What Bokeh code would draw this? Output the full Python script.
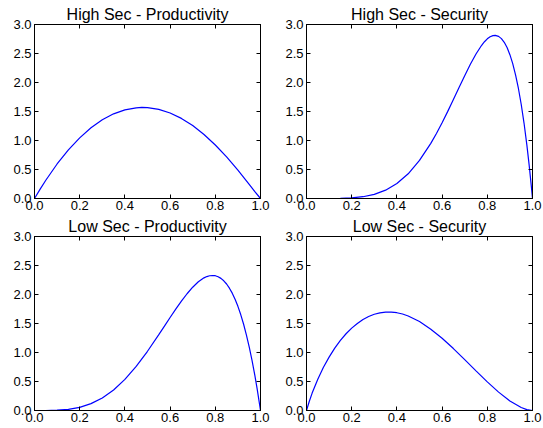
from bokeh.plotting import figure
from bokeh.layouts import gridplot
from bokeh.models import Range1d, LinearAxis, FixedTicker
from bokeh.embed import file_html
from bokeh.resources import INLINE

# ---------------- data ----------------
titles = ["High Sec - Productivity", "High Sec - Security",
          "Low Sec - Productivity", "Low Sec - Security"]

x_ticks = [0.0, 0.2, 0.4, 0.6, 0.8, 1.0]
x_tick_labels = ["0.0", "0.2", "0.4", "0.6", "0.8", "1.0"]
y_ticks = [0.0, 0.5, 1.0, 1.5, 2.0, 2.5, 3.0]
y_tick_labels = ["0.0", "0.5", "1.0", "1.5", "2.0", "2.5", "3.0"]

hi_prod_x = [0.0, 0.025, 0.05, 0.1, 0.15, 0.2, 0.25, 0.3, 0.35, 0.4, 0.45, 0.475,
             0.5, 0.55, 0.6, 0.65, 0.7, 0.75, 0.8, 0.85, 0.9, 0.95, 0.975, 1.0]
hi_prod_y = [0.0, 0.162, 0.315, 0.595, 0.838, 1.046, 1.219, 1.357, 1.460, 1.529, 1.564, 1.570,
             1.567, 1.536, 1.474, 1.381, 1.257, 1.104, 0.923, 0.717, 0.488, 0.242, 0.117, 0.0]

hi_sec_x = [0.0, 0.05, 0.1, 0.15, 0.2, 0.25, 0.3, 0.35, 0.4, 0.45, 0.5, 0.55, 0.575, 0.6,
            0.625, 0.65, 0.675, 0.7, 0.725, 0.75, 0.775, 0.7875, 0.8, 0.8125, 0.825, 0.835,
            0.85, 0.8625, 0.875, 0.8875, 0.9, 0.9125, 0.925, 0.9375, 0.95, 0.9625, 0.975,
            0.985, 0.995, 1.0]
hi_sec_y = [0.0, 0.0, 0.0004, 0.0027, 0.0108, 0.0308, 0.0714, 0.1434, 0.258, 0.426, 0.656,
            0.951, 1.122, 1.306, 1.502, 1.705, 1.913, 2.118, 2.314, 2.492, 2.642, 2.703,
            2.753, 2.789, 2.809, 2.813, 2.795, 2.756, 2.693, 2.602, 2.480, 2.325, 2.133,
            1.901, 1.625, 1.301, 0.925, 0.584, 0.205, 0.0]

lo_prod_x = [0.0, 0.05, 0.1, 0.15, 0.2, 0.25, 0.3, 0.35, 0.4, 0.45, 0.5, 0.55, 0.575, 0.6,
             0.625, 0.65, 0.675, 0.7, 0.725, 0.75, 0.7625, 0.775, 0.7875, 0.8, 0.8125, 0.825,
             0.8375, 0.85, 0.8625, 0.875, 0.8875, 0.9, 0.9125, 0.925, 0.9375, 0.95, 0.9625,
             0.975, 0.985, 1.0]
lo_prod_y = [0.0, 0.0004, 0.0048, 0.0202, 0.055, 0.118, 0.216, 0.354, 0.536, 0.760, 1.021,
             1.307, 1.454, 1.603, 1.747, 1.885, 2.013, 2.126, 2.219, 2.287, 2.309, 2.323,
             2.328, 2.324, 2.306, 2.278, 2.236, 2.181, 2.109, 2.023, 1.918, 1.796, 1.654,
             1.491, 1.305, 1.097, 0.863, 0.604, 0.376, 0.0]

lo_sec_x = [0.0, 0.0125, 0.025, 0.05, 0.075, 0.1, 0.125, 0.15, 0.175, 0.2, 0.225, 0.25,
            0.275, 0.3, 0.325, 0.35, 0.375, 0.4, 0.425, 0.45, 0.5, 0.55, 0.6, 0.65, 0.7,
            0.75, 0.8, 0.85, 0.9, 0.95, 0.975, 1.0]
lo_sec_y = [0.0, 0.16, 0.30, 0.54, 0.745, 0.92, 1.075, 1.21, 1.323, 1.42, 1.50, 1.57,
            1.62, 1.66, 1.684, 1.695, 1.696, 1.686, 1.664, 1.63, 1.533, 1.402, 1.245, 1.068,
            0.878, 0.684, 0.493, 0.317, 0.165, 0.052, 0.016, 0.0]

FONT = "Liberation Sans"


def style_axis(ax, ticks, labels, show, standoff):
    ax.ticker = FixedTicker(ticks=ticks)
    if show:
        ax.major_label_overrides = {t: l for t, l in zip(ticks, labels)}
    else:
        ax.major_label_overrides = {t: "" for t in ticks}
    ax.axis_line_color = "black"
    ax.axis_line_width = 1
    ax.major_tick_line_color = "black"
    ax.major_tick_line_width = 1
    ax.major_tick_in = 4
    ax.major_tick_out = 0
    ax.minor_tick_line_color = None
    ax.major_label_text_font = FONT
    ax.major_label_text_font_size = "13px" if show else "0px"
    ax.major_label_text_color = "black"
    ax.major_label_standoff = standoff


def make_panel(title, xs, ys, left, right, top, bottom):
    p = figure(frame_width=226, frame_height=174,
               x_range=Range1d(0, 1), y_range=Range1d(0, 3),
               x_axis_type=None, y_axis_type=None,
               output_backend="svg", toolbar_location=None,
               min_border_left=left, min_border_right=right,
               min_border_top=top, min_border_bottom=bottom,
               title=title)
    p.title.align = "center"
    p.title.text_font = FONT
    p.title.text_font_size = "16px"
    p.title.text_font_style = "normal"
    p.title.text_color = "black"
    p.title.standoff = 4
    p.xgrid.visible = False
    p.ygrid.visible = False
    p.background_fill_color = "white"
    p.border_fill_color = "white"
    p.outline_line_color = "black"
    p.outline_line_width = 1

    for loc, ticks, labels, show, so in [("below", x_ticks, x_tick_labels, True, 2),
                                         ("left", y_ticks, y_tick_labels, True, 3),
                                         ("above", x_ticks, x_tick_labels, False, 0),
                                         ("right", y_ticks, y_tick_labels, False, 0)]:
        ax = LinearAxis()
        style_axis(ax, ticks, labels, show, so)
        p.add_layout(ax, loc)

    p.line(xs, ys, line_color="#0000ff", line_width=1.2)
    return p


p1 = make_panel(titles[0], hi_prod_x, hi_prod_y, 34, 20, 24, 15)
p2 = make_panel(titles[1], hi_sec_x, hi_sec_y, 26, 11, 24, 15)
p3 = make_panel(titles[2], lo_prod_x, lo_prod_y, 34, 20, 22, 15)
p4 = make_panel(titles[3], lo_sec_x, lo_sec_y, 26, 11, 22, 15)

grid = gridplot([[p1, p2], [p3, p4]], toolbar_location=None)

open("out.html", "w").write(file_html(grid, INLINE))
